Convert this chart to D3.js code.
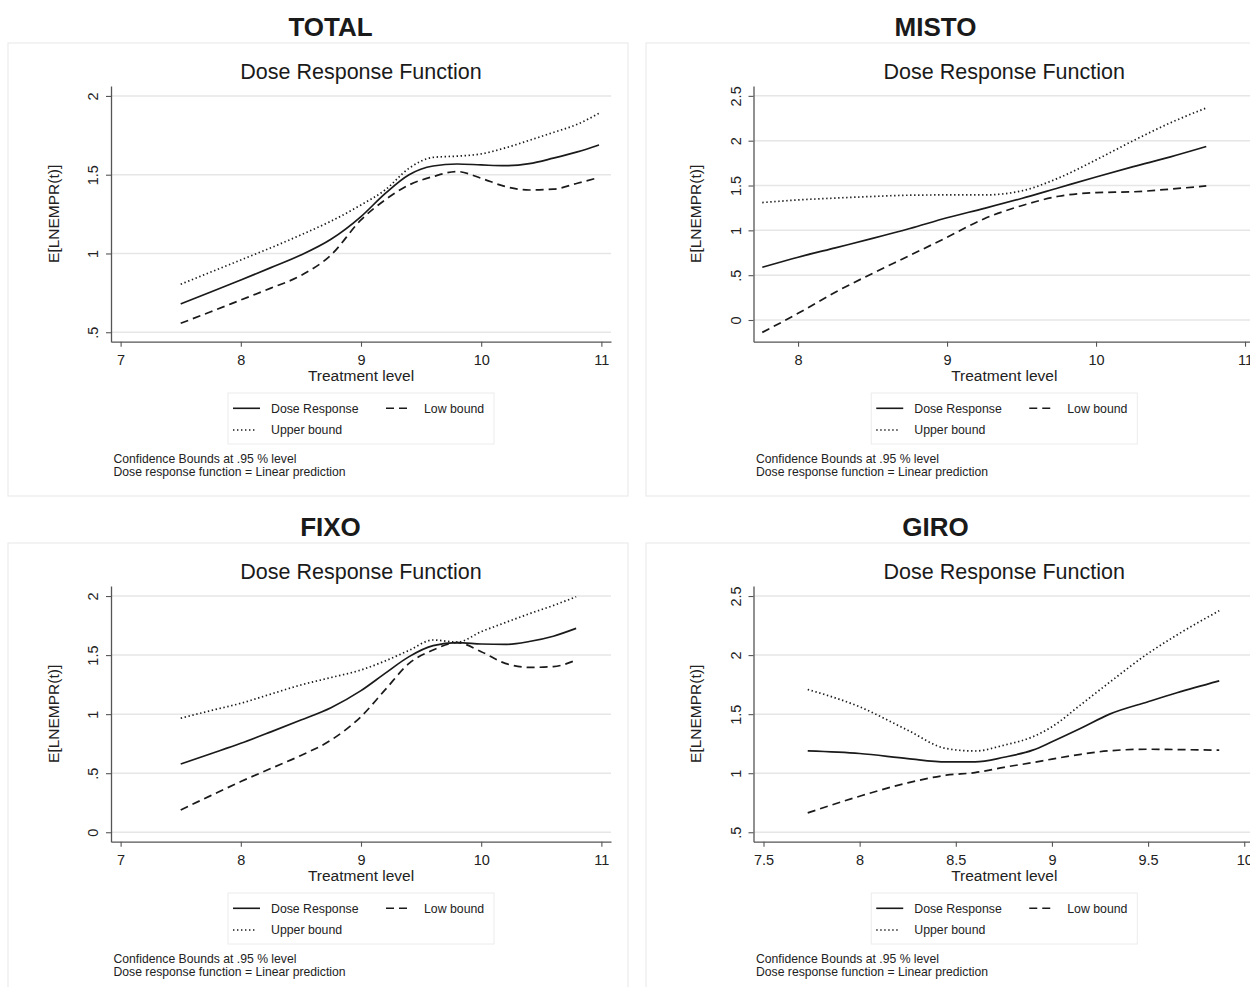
<!DOCTYPE html>
<html><head><meta charset="utf-8">
<script src="https://cdn.jsdelivr.net/npm/d3@7"></script>
<style>
body{margin:0;background:#fff;}
svg{display:block;font-family:"Liberation Sans",Arial,Helvetica,sans-serif;}
</style>
</head><body>
<svg id="c" width="1250" height="987"></svg>
<script>
// ---------------- DATA ----------------
const panelTitles = ["TOTAL", "MISTO", "FIXO", "GIRO"];
const chartTitle = "Dose Response Function";
const xAxisTitle = "Treatment level";
const yAxisTitle = "E[LNEMPR(t)]";
const legendLabels = ["Dose Response", "Low bound", "Upper bound"];
const noteLines = ["Confidence Bounds at .95 % level", "Dose response function = Linear prediction"];

// TOTAL
const totalX     = [7.5, 7.75, 8, 8.25, 8.5, 8.75, 9, 9.2, 9.4, 9.6, 9.8, 10, 10.2, 10.4, 10.6, 10.8, 10.98];
const totalDose  = [0.68, 0.755, 0.832, 0.91, 0.99, 1.09, 1.234, 1.38, 1.5, 1.555, 1.568, 1.562, 1.557, 1.57, 1.605, 1.645, 1.689];
const totalUpper = [0.805, 0.882, 0.959, 1.036, 1.118, 1.205, 1.308, 1.403, 1.541, 1.61, 1.618, 1.632, 1.67, 1.718, 1.768, 1.82, 1.89];
const totalLow   = [0.557, 0.63, 0.705, 0.78, 0.86, 0.99, 1.213, 1.34, 1.435, 1.488, 1.52, 1.477, 1.425, 1.403, 1.408, 1.446, 1.482];
const totalXTicks = [7, 8, 9, 10, 11];
const totalXTickLabels = ["7", "8", "9", "10", "11"];
const totalYTicks = [0.5, 1, 1.5, 2];
const totalYTickLabels = [".5", "1", "1.5", "2"];

// MISTO
const mistoX     = [7.76, 8, 8.25, 8.5, 8.75, 9, 9.25, 9.5, 9.75, 10, 10.25, 10.5, 10.74];
const mistoDose  = [0.588, 0.70, 0.805, 0.91, 1.02, 1.14, 1.245, 1.355, 1.475, 1.595, 1.71, 1.82, 1.935];
const mistoUpper = [1.31, 1.339, 1.36, 1.378, 1.392, 1.395, 1.395, 1.44, 1.585, 1.786, 2.0, 2.2, 2.365];
const mistoLow   = [-0.138, 0.074, 0.31, 0.52, 0.72, 0.923, 1.13, 1.275, 1.38, 1.421, 1.43, 1.46, 1.496];
const mistoXTicks = [8, 9, 10, 11];
const mistoXTickLabels = ["8", "9", "10", "11"];
const mistoYTicks = [0, 0.5, 1, 1.5, 2, 2.5];
const mistoYTickLabels = ["0", ".5", "1", "1.5", "2", "2.5"];

// FIXO
const fixoX     = [7.5, 7.75, 8, 8.25, 8.5, 8.75, 9, 9.2, 9.4, 9.6, 9.8, 10, 10.2, 10.4, 10.6, 10.79];
const fixoDose  = [0.578, 0.665, 0.753, 0.85, 0.95, 1.055, 1.199, 1.345, 1.487, 1.58, 1.605, 1.594, 1.59, 1.615, 1.66, 1.726];
const fixoUpper = [0.965, 1.03, 1.092, 1.17, 1.247, 1.31, 1.374, 1.45, 1.54, 1.628, 1.61, 1.698, 1.775, 1.85, 1.92, 1.994];
const fixoLow   = [0.189, 0.31, 0.429, 0.54, 0.65, 0.78, 0.979, 1.205, 1.43, 1.543, 1.605, 1.529, 1.43, 1.396, 1.402, 1.458];
const fixoXTicks = [7, 8, 9, 10, 11];
const fixoXTickLabels = ["7", "8", "9", "10", "11"];
const fixoYTicks = [0, 0.5, 1, 1.5, 2];
const fixoYTickLabels = ["0", ".5", "1", "1.5", "2"];

// GIRO
const giroX     = [7.73, 8, 8.25, 8.45, 8.6, 8.75, 8.9, 9, 9.15, 9.3, 9.5, 9.65, 9.87];
const giroDose  = [1.189, 1.167, 1.124, 1.096, 1.096, 1.135, 1.195, 1.266, 1.38, 1.5, 1.605, 1.681, 1.782];
const giroUpper = [1.709, 1.562, 1.364, 1.209, 1.188, 1.237, 1.308, 1.393, 1.58, 1.77, 2.014, 2.17, 2.376];
const giroLow   = [0.664, 0.805, 0.918, 0.983, 1.005, 1.05, 1.09, 1.119, 1.16, 1.19, 1.203, 1.2, 1.195];
const giroXTicks = [7.5, 8, 8.5, 9, 9.5, 10];
const giroXTickLabels = ["7.5", "8", "8.5", "9", "9.5", "10"];
const giroYTicks = [0.5, 1, 1.5, 2, 2.5];
const giroYTickLabels = [".5", "1", "1.5", "2", "2.5"];

// ---------------- PANELS (layout) ----------------
const panels = [
  { title: panelTitles[0], x: totalX, dose: totalDose, upper: totalUpper, low: totalLow,
    xTicks: totalXTicks, xLabels: totalXTickLabels, yTicks: totalYTicks, yLabels: totalYTickLabels,
    xDom: [6.92, 11.08], yDom: [0.44, 2.063], col: 0, row: 0 },
  { title: panelTitles[1], x: mistoX, dose: mistoDose, upper: mistoUpper, low: mistoLow,
    xTicks: mistoXTicks, xLabels: mistoXTickLabels, yTicks: mistoYTicks, yLabels: mistoYTickLabels,
    xDom: [7.701, 11.067], yDom: [-0.242, 2.61], col: 1, row: 0 },
  { title: panelTitles[2], x: fixoX, dose: fixoDose, upper: fixoUpper, low: fixoLow,
    xTicks: fixoXTicks, xLabels: fixoXTickLabels, yTicks: fixoYTicks, yLabels: fixoYTickLabels,
    xDom: [6.92, 11.08], yDom: [-0.08, 2.085], col: 0, row: 1 },
  { title: panelTitles[3], x: giroX, dose: giroDose, upper: giroUpper, low: giroLow,
    xTicks: giroXTicks, xLabels: giroXTickLabels, yTicks: giroYTicks, yLabels: giroYTickLabels,
    xDom: [7.448, 10.056], yDom: [0.42, 2.585], col: 1, row: 1 }
];

const colLayout = [
  { bx0: 8, bx1: 628, titleX: 330.5, px0: 111, px1: 611 },
  { bx0: 646, bx1: 1266, titleX: 935.5, px0: 753.5, px1: 1255 }
];
const rowOffset = [0, 500];

const svg = d3.select("#c");
svg.append("rect").attr("width", 1250).attr("height", 987).attr("fill", "#fff");

const INK = "#1a1a1a";
const AXIS = "#555";
const GRID = "#e6e6e6";

panels.forEach(p => {
  const c = colLayout[p.col];
  const oy = rowOffset[p.row];
  const py0 = 86 + oy, py1 = 341.7 + oy;
  const g = svg.append("g");

  // panel border
  g.append("rect").attr("x", c.bx0).attr("y", 43 + oy)
    .attr("width", c.bx1 - c.bx0).attr("height", 453)
    .attr("fill", "none").attr("stroke", "#ebebeb").attr("stroke-width", 1.2);

  // panel title
  g.append("text").attr("x", c.titleX).attr("y", 36 + oy)
    .attr("text-anchor", "middle").attr("font-size", 26).attr("font-weight", "bold")
    .attr("fill", "#1a1a1a").text(p.title);

  const cx = (c.px0 + c.px1) / 2;
  g.append("text").attr("x", cx).attr("y", 78.5 + oy)
    .attr("text-anchor", "middle").attr("font-size", 21.5).attr("fill", "#1a1a1a").text(chartTitle);

  const xs = d3.scaleLinear().domain(p.xDom).range([c.px0, c.px1]);
  const ys = d3.scaleLinear().domain(p.yDom).range([py1, py0]);

  // gridlines
  g.append("g").selectAll("line").data(p.yTicks).join("line")
    .attr("x1", c.px0).attr("x2", c.px1)
    .attr("y1", d => ys(d)).attr("y2", d => ys(d))
    .attr("stroke", GRID).attr("stroke-width", 1.5);

  // y axis
  const yAx = g.append("g").attr("transform", `translate(${c.px0},0)`)
    .call(d3.axisLeft(ys).tickValues(p.yTicks)
      .tickFormat((d, i) => p.yLabels[i]).tickSize(5).tickSizeOuter(0));
  yAx.attr("font-family", null).attr("font-size", null);
  yAx.select(".domain").attr("stroke", AXIS).attr("stroke-width", 1.3);
  yAx.selectAll(".tick line").attr("stroke", AXIS).attr("stroke-width", 1.1);
  yAx.selectAll(".tick text")
    .attr("x", 0).attr("y", 0).attr("dy", "0.36em")
    .attr("text-anchor", "middle")
    .attr("transform", "translate(-18,0) rotate(-90)")
    .attr("font-size", 14.5).attr("fill", "#222");

  // x axis
  const xAx = g.append("g").attr("transform", `translate(0,${py1})`)
    .call(d3.axisBottom(xs).tickValues(p.xTicks)
      .tickFormat((d, i) => p.xLabels[i]).tickSize(5).tickSizeOuter(0));
  xAx.attr("font-family", null).attr("font-size", null);
  xAx.select(".domain").attr("stroke", AXIS).attr("stroke-width", 1.3);
  xAx.selectAll(".tick line").attr("stroke", AXIS).attr("stroke-width", 1.1);
  xAx.selectAll(".tick text").attr("y", 23.5).attr("dy", 0)
    .attr("font-size", 14.5).attr("fill", "#222");

  // axis titles
  g.append("text").attr("x", cx).attr("y", py1 + 39)
    .attr("text-anchor", "middle").attr("font-size", 15.5).attr("fill", "#222").text(xAxisTitle);
  g.append("text")
    .attr("transform", `translate(${c.px0 - 58},${(py0 + py1) / 2}) rotate(-90)`)
    .attr("dy", "0.36em").attr("text-anchor", "middle")
    .attr("font-size", 15.5).attr("fill", "#222").text(yAxisTitle);

  // curves
  const line = d3.line().x(d => xs(d[0])).y(d => ys(d[1])).curve(d3.curveMonotoneX);
  const series = [
    { vals: p.upper, dash: "1.4,2.6" },
    { vals: p.low, dash: "8,5" },
    { vals: p.dose, dash: null }
  ];
  series.forEach(s => {
    g.append("path").datum(p.x.map((xv, i) => [xv, s.vals[i]]))
      .attr("d", line).attr("fill", "none").attr("stroke", INK)
      .attr("stroke-width", 1.7).attr("stroke-dasharray", s.dash);
  });

  // legend
  const lx = cx - 133, ly = 393 + oy;
  const lg = g.append("g");
  lg.append("rect").attr("x", lx).attr("y", ly).attr("width", 266).attr("height", 51)
    .attr("fill", "#fff").attr("stroke", "#ececec").attr("stroke-width", 1);
  const items = [
    { label: legendLabels[0], dash: null, sx: 5, sw: 27, tx: 43, ry: 15.3 },
    { label: legendLabels[1], dash: "8,5", sx: 158, sw: 24, tx: 196, ry: 15.3 },
    { label: legendLabels[2], dash: "1.4,2.6", sx: 5, sw: 24, tx: 43, ry: 37 }
  ];
  items.forEach(it => {
    lg.append("line").attr("x1", lx + it.sx).attr("x2", lx + it.sx + it.sw)
      .attr("y1", ly + it.ry).attr("y2", ly + it.ry)
      .attr("stroke", INK).attr("stroke-width", 1.6).attr("stroke-dasharray", it.dash);
    lg.append("text").attr("x", lx + it.tx).attr("y", ly + it.ry + 4.3)
      .attr("font-size", 12.3).attr("fill", "#222").text(it.label);
  });

  // notes
  noteLines.forEach((t, i) => {
    g.append("text").attr("x", c.px0 + 2.5).attr("y", 462.5 + oy + i * 13.5)
      .attr("font-size", 12.2).attr("fill", "#222").text(t);
  });
});
</script>
</body></html>
